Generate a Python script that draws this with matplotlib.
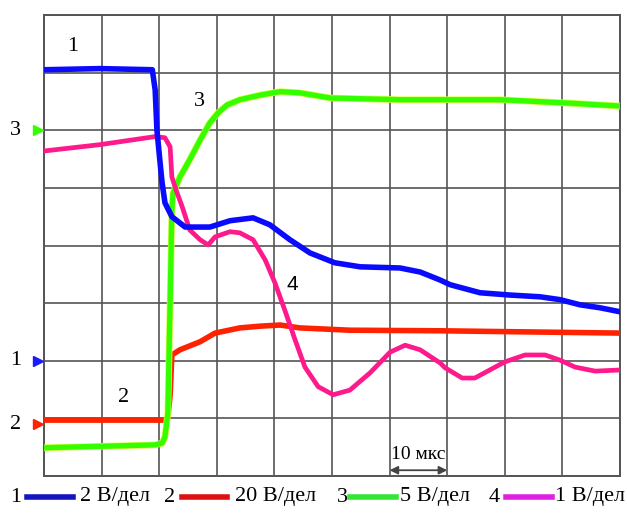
import matplotlib
matplotlib.use("Agg")
import matplotlib.pyplot as plt
from matplotlib.lines import Line2D

# time in grid divisions (10 us / div), amplitude in grid divisions
t1 = [0.00, 0.97, 1.88, 1.93, 1.96, 2.01, 2.05, 2.10, 2.22, 2.45, 2.88, 3.23, 3.63, 3.92,
      4.27, 4.62, 5.05, 5.49, 6.18, 6.53, 6.88, 7.05, 7.57, 8.09, 8.61, 8.96, 9.31, 9.65, 10.0]
v1 = [7.05, 7.07, 7.05, 6.70, 6.01, 5.49, 5.09, 4.74, 4.50, 4.32, 4.32, 4.43, 4.48, 4.36,
      4.10, 3.87, 3.70, 3.63, 3.61, 3.54, 3.40, 3.32, 3.18, 3.14, 3.11, 3.06, 2.97, 2.92, 2.85]

t2 = [0.00, 2.14, 2.17, 2.19, 2.22, 2.36, 2.71, 2.97, 3.40, 3.75, 4.10, 4.44, 5.31, 6.88, 10.0]
v2 = [0.97, 0.97, 1.20, 1.41, 2.10, 2.19, 2.33, 2.48, 2.57, 2.60, 2.62, 2.57, 2.53, 2.52, 2.48]

t3 = [0.00, 1.93, 2.05, 2.10, 2.15, 2.19, 2.22, 2.24, 2.36, 2.53, 2.71, 2.88, 3.02, 3.18,
      3.40, 3.75, 4.10, 4.44, 4.97, 6.18, 7.92, 9.13, 10.0]
v3 = [0.49, 0.54, 0.57, 0.68, 1.09, 3.06, 4.62, 4.91, 5.19, 5.49, 5.83, 6.13, 6.30, 6.44,
      6.53, 6.61, 6.67, 6.65, 6.56, 6.53, 6.53, 6.47, 6.42]

t4 = [0.00, 0.97, 1.93, 2.10, 2.19, 2.22, 2.29, 2.40, 2.53, 2.71, 2.85, 2.97, 3.23, 3.40,
      3.63, 3.84, 4.01, 4.18, 4.36, 4.53, 4.76, 5.02, 5.31, 5.66, 6.01, 6.27, 6.53, 6.88,
      6.96, 7.26, 7.48, 7.74, 8.00, 8.35, 8.70, 8.96, 9.22, 9.57, 10.0]
v4 = [5.64, 5.75, 5.89, 5.87, 5.71, 5.19, 4.97, 4.67, 4.27, 4.10, 4.01, 4.15, 4.24, 4.22,
      4.10, 3.75, 3.35, 2.88, 2.36, 1.89, 1.55, 1.41, 1.49, 1.79, 2.15, 2.27, 2.19, 1.96,
      1.88, 1.70, 1.70, 1.84, 1.98, 2.10, 2.10, 2.01, 1.89, 1.82, 1.84]

channel_ids = ["1", "2", "3", "4"]
scales = ["2 В/дел", "20 В/дел", "5 В/дел", "1 В/дел"]
ref_levels = {"3": 6.0, "1": 2.0, "2": 0.9}

trace_colors = ["#0a0aff", "#ff2200", "#33ff00", "#ff1a8c"]
legend_colors = ["#1515c0", "#dd1111", "#33e633", "#e020e0"]

W, H = 627, 513
fig = plt.figure(figsize=(W / 100, H / 100), dpi=100)
L, R, T, B = 44, 620, 15, 476
ax = fig.add_axes([L / W, 1 - B / H, (R - L) / W, (B - T) / H])
ax.set_xlim(0, 10)
ax.set_ylim(0, 8)
ax.set_xticks(range(11))
ax.set_yticks(range(9))
ax.tick_params(length=0, labelbottom=False, labelleft=False)
ax.grid(True, color="#555555", lw=1.2)
for s in ax.spines.values():
    s.set_color("#555555")
    s.set_linewidth(1.4)

serif = ["Liberation Serif", "DejaVu Serif"]

ax.plot(t2, v2, color=trace_colors[1], lw=4.0, solid_joinstyle="round", zorder=3)
ax.plot(t3, v3, color="#d8ff40", lw=4.8, zorder=3)
ax.plot(t3, v3, color=trace_colors[2], lw=3.8, zorder=3)
ax.plot(t4, v4, color=trace_colors[3], lw=3.4, zorder=4)
ax.plot(t1, v1, color=trace_colors[0], lw=4.0, zorder=5)

# reference level markers on left
mk_col = {"3": trace_colors[2], "1": "#1a1aff", "2": trace_colors[1]}
for k, lvl in ref_levels.items():
    ax.plot([-0.11], [lvl], marker=">", ms=7, color=mk_col[k], clip_on=False, zorder=6)
    ax.text(-0.5, lvl, k, ha="center", va="center", fontsize=16, family=serif,
            transform=ax.transData, clip_on=False)

def fx(px):
    return px / W

def fy(py):
    return 1 - py / H

# curve labels
fig.text(fx(73), fy(47), "1", ha="center", va="center", fontsize=16, family=serif)
fig.text(fx(199), fy(101), "3", ha="center", va="center", fontsize=16, family=serif)
fig.text(fx(292), fy(285), "4", ha="center", va="center", fontsize=15,
         family=["Liberation Sans", "DejaVu Sans"])
fig.text(fx(124), fy(398), "2", ha="center", va="center", fontsize=16, family=serif)

# time scale marker
ax.annotate("", xy=(7.0, 0.1), xytext=(6.0, 0.1),
            arrowprops=dict(arrowstyle="<|-|>", color="#444444", lw=1.3,
                            mutation_scale=12, shrinkA=0, shrinkB=0))
ax.text(6.5, 0.37, "10 мкс", ha="center", va="center", fontsize=14, family=serif)

# legend
ly = 497
num_x = [16, 170, 342, 494]
line_x = [(27, 73), (182, 227), (350, 396), (506, 552)]
txt_x = [80, 235, 400, 555]
for i in range(4):
    fig.text(fx(num_x[i]), fy(ly), channel_ids[i], ha="center", va="center",
             fontsize=16, family=serif)
    fig.add_artist(Line2D([fx(line_x[i][0]), fx(line_x[i][1])], [fy(ly), fy(ly)],
                          color=legend_colors[i], lw=4, transform=fig.transFigure))
    fig.text(fx(txt_x[i]), fy(ly), scales[i], ha="left", va="center",
             fontsize=16, family=serif)

fig.savefig("out.png", dpi=100)
